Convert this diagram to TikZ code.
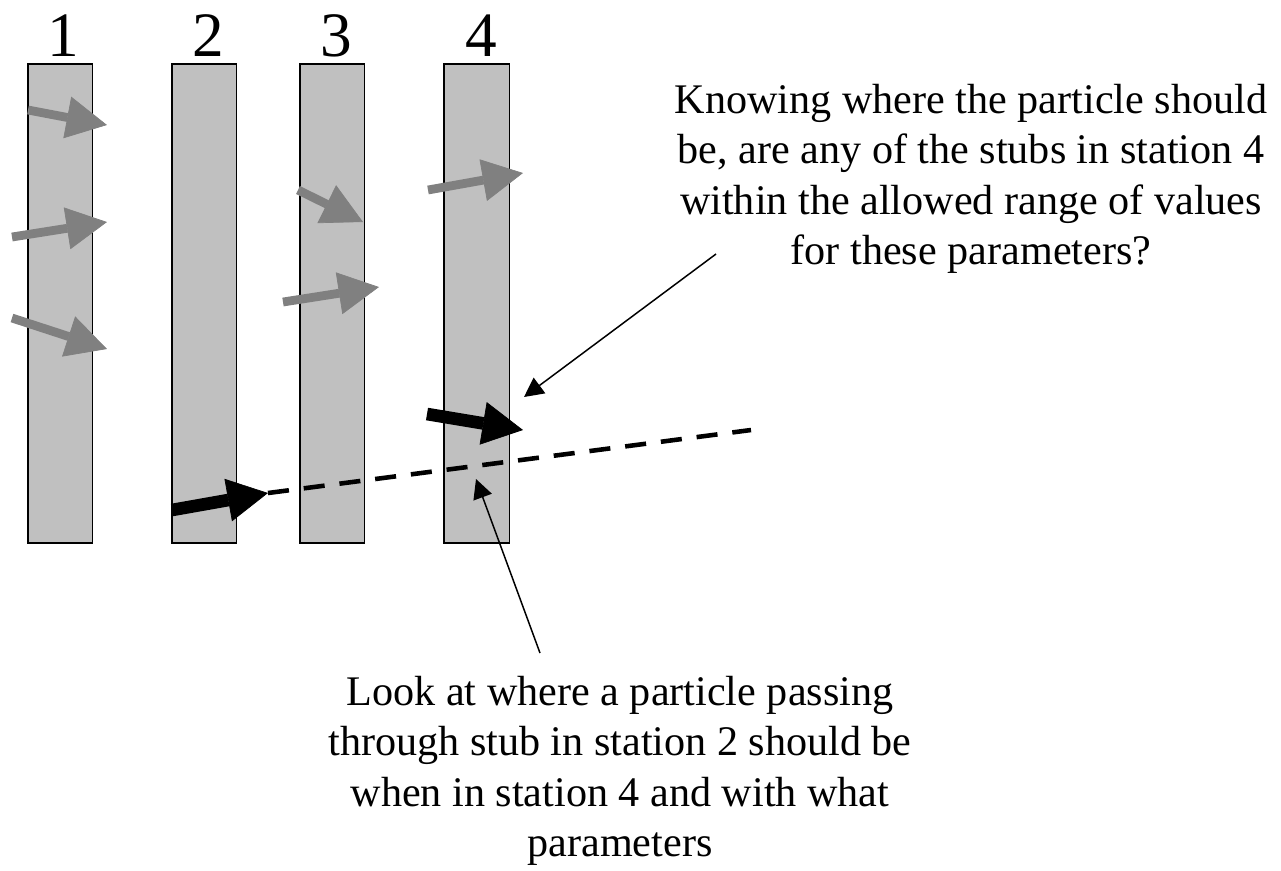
\documentclass[tikz,border=0pt]{standalone}
\usepackage{fontspec}
\setmainfont{Liberation Serif}
\usetikzlibrary{arrows.meta}
\definecolor{barfill}{RGB}{192,192,192}
\definecolor{stubgray}{RGB}{128,128,128}
\begin{document}
\begin{tikzpicture}[x=0.02cm, y=-0.02cm,
  stationbar/.style={draw, line width=1.1pt, fill=barfill},
  graystub/.style={draw=stubgray, line width=5pt, -{Triangle[length=23pt, width=24pt, line width=0.4pt]}},
  seedstub/.style={draw=black, line width=7.2pt, -{Triangle[length=23pt, width=24.5pt, line width=0.4pt]}},
  callout/.style={line width=0.85pt, -{Triangle[length=11pt, width=11pt]}},
  track/.style={line width=2.6pt, dash pattern=on 12pt off 8.5pt},
  remark/.style={align=center, inner sep=0pt, anchor=north, font=\fontsize{24}{28.6}\selectfont},
  stnum/.style={anchor=base, inner sep=0pt, font=\fontsize{36}{40}\selectfont}
]
\useasboundingbox (0,0) rectangle (1281,870);

\draw[stationbar] (27.7,64) rectangle (92.5,543);
\draw[stationbar] (171.7,64) rectangle (236.5,543);
\draw[stationbar] (300.4,64) rectangle (364.5,543);
\draw[stationbar] (444,64) rectangle (509.5,543);

\node[stnum] (n1) at (63,56) {1};
\node[stnum] (n2) at (208,56) {2};
\node[stnum] (n3) at (336,56) {3};
\node[stnum] (n4) at (481,56) {4};

\draw[graystub] (28,110) -- (107,125);
\draw[graystub] (12,237) -- (107,222);
\draw[graystub] (12,318) -- (107,349);
\draw[graystub] (298,190) -- (363,222);
\draw[graystub] (283,302) -- (379,287);
\draw[graystub] (428,190) -- (523,173);

\coordinate (hit2) at (268,493);
\coordinate (trackend) at (751,430);
\draw[track] (hit2) -- (trackend);
\draw[seedstub] (172,510) -- (hit2);
\draw[seedstub] (427,414) -- (523,430);

\node[remark] (ask) at (971,84) {Knowing where the particle should\\be, are any of the stubs in station 4\\within the allowed range of values\\for these parameters?};
\node[remark] (look) at (620,676) {Look at where a particle passing\\through stub in station 2 should be\\when in station 4 and with what\\parameters};

\coordinate (askfoot) at (716,254);
\coordinate (window) at (524,397);
\coordinate (lookhead) at (540,653);
\coordinate (predicted) at (476,479);
\draw[callout] (askfoot) -- (window);
\draw[callout] (lookhead) -- (predicted);
\end{tikzpicture}
\end{document}
